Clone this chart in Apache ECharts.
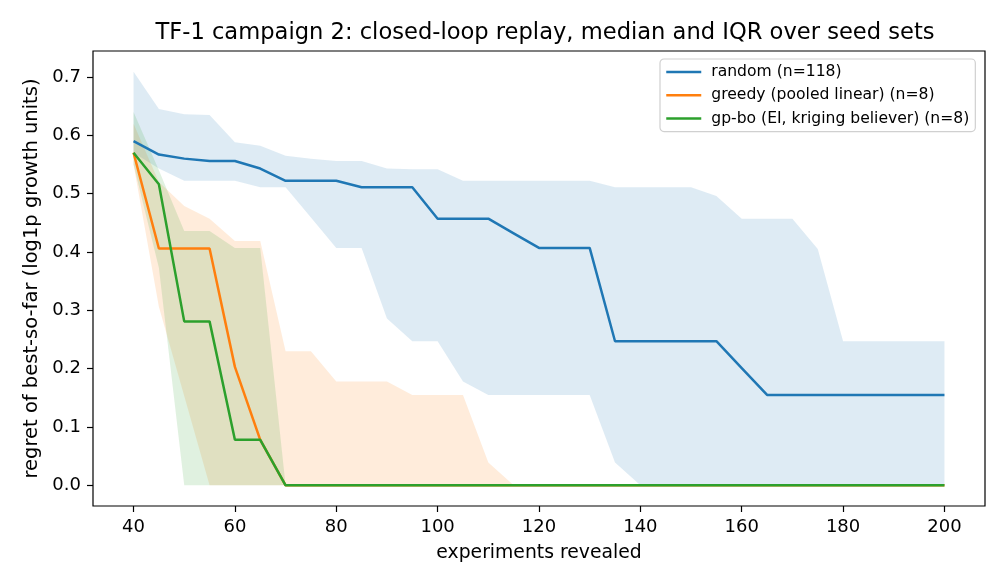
<!DOCTYPE html>
<html>
<head>
<meta charset="utf-8">
<script src="https://cdn.jsdelivr.net/npm/echarts@6/dist/echarts.min.js"></script>
<style>
  html, body { margin: 0; padding: 0; background: #fff; }
  #chart { width: 1008px; height: 588px; }
</style>
</head>
<body>
<div id="chart"></div>
<script>
// experiments revealed
const revealed = [40, 45, 50, 55, 60, 65, 70, 75, 80, 85, 90, 95, 100, 105, 110, 115, 120,
  125, 130, 135, 140, 145, 150, 155, 160, 165, 170, 175, 180, 185, 190, 195, 200];

// random (n=118)
const randomMedian = [0.590, 0.567, 0.560, 0.556, 0.556, 0.543, 0.522, 0.522, 0.522, 0.511, 0.511,
  0.511, 0.457, 0.457, 0.457, 0.432, 0.407, 0.407, 0.407, 0.247, 0.247, 0.247, 0.247, 0.247,
  0.201, 0.155, 0.155, 0.155, 0.155, 0.155, 0.155, 0.155, 0.155];
const randomUpper = [0.709, 0.645, 0.636, 0.635, 0.588, 0.582, 0.565, 0.560, 0.556, 0.556, 0.543,
  0.542, 0.542, 0.522, 0.522, 0.522, 0.522, 0.522, 0.522, 0.511, 0.511, 0.511, 0.511, 0.496,
  0.457, 0.457, 0.457, 0.405, 0.247, 0.247, 0.247, 0.247, 0.247];
const randomLower = [0.570, 0.543, 0.522, 0.522, 0.522, 0.511, 0.511, 0.459, 0.407, 0.407, 0.286,
  0.247, 0.247, 0.178, 0.155, 0.155, 0.155, 0.155, 0.155, 0.039, 0, 0, 0, 0,
  0, 0, 0, 0, 0, 0, 0, 0, 0];

// greedy (pooled linear) (n=8)
const greedyMedian = [0.570, 0.406, 0.406, 0.406, 0.203, 0.078, 0, 0, 0, 0, 0,
  0, 0, 0, 0, 0, 0, 0, 0, 0, 0, 0, 0, 0, 0, 0, 0, 0, 0, 0, 0, 0, 0];
const greedyUpper = [0.620, 0.520, 0.479, 0.457, 0.419, 0.419, 0.230, 0.230, 0.178, 0.178, 0.178,
  0.155, 0.155, 0.155, 0.039, 0, 0, 0, 0, 0, 0, 0, 0, 0, 0, 0, 0, 0, 0, 0, 0, 0, 0];
const greedyLower = [0.550, 0.306, 0.153, 0, 0, 0, 0, 0, 0, 0, 0,
  0, 0, 0, 0, 0, 0, 0, 0, 0, 0, 0, 0, 0, 0, 0, 0, 0, 0, 0, 0, 0, 0];

// gp-bo (EI, kriging believer) (n=8)
const gpboMedian = [0.570, 0.516, 0.281, 0.281, 0.078, 0.078, 0, 0, 0, 0, 0,
  0, 0, 0, 0, 0, 0, 0, 0, 0, 0, 0, 0, 0, 0, 0, 0, 0, 0, 0, 0, 0, 0];
const gpboUpper = [0.640, 0.540, 0.436, 0.436, 0.407, 0.407, 0, 0, 0, 0, 0,
  0, 0, 0, 0, 0, 0, 0, 0, 0, 0, 0, 0, 0, 0, 0, 0, 0, 0, 0, 0, 0, 0];
const gpboLower = [0.550, 0.373, 0, 0, 0, 0, 0, 0, 0, 0, 0,
  0, 0, 0, 0, 0, 0, 0, 0, 0, 0, 0, 0, 0, 0, 0, 0, 0, 0, 0, 0, 0, 0];

const xTicks = [40, 60, 80, 100, 120, 140, 160, 180, 200];
const yTicks = [0, 0.1, 0.2, 0.3, 0.4, 0.5, 0.6, 0.7];

const methods = [
  { name: 'random (n=118)', color: '#1f77b4', med: randomMedian, lo: randomLower, hi: randomUpper },
  { name: 'greedy (pooled linear) (n=8)', color: '#ff7f0e', med: greedyMedian, lo: greedyLower, hi: greedyUpper },
  { name: 'gp-bo (EI, kriging believer) (n=8)', color: '#2ca02c', med: gpboMedian, lo: gpboLower, hi: gpboUpper }
];

const font = 'DejaVu Sans';
const pairs = (ys) => revealed.map((x, i) => [x, ys[i]]);

const series = [];
// IQR bands: one polygon per method, upper edge then lower edge back
methods.forEach((m) => {
  series.push({
    type: 'custom', name: m.name + ' iqr', silent: true, z: 1,
    data: [[revealed[0], m.lo[0]]],
    encode: { x: 0, y: 1 },
    renderItem: (params, api) => {
      const top = revealed.map((x, i) => api.coord([x, m.hi[i]]));
      const bot = revealed.map((x, i) => api.coord([x, m.lo[i]])).reverse();
      return {
        type: 'polygon',
        shape: { points: top.concat(bot) },
        style: { fill: m.color, opacity: 0.15 }
      };
    }
  });
});
methods.forEach((m, k) => {
  series.push({
    type: 'line', name: m.name, symbol: 'none', data: pairs(m.med),
    lineStyle: { color: m.color, width: 2.5 }, itemStyle: { color: m.color }, z: 3 + k
  });
});

const chart = echarts.init(document.getElementById('chart'));
chart.setOption({
  animation: false,
  backgroundColor: '#fff',
  title: {
    text: 'TF-1 campaign 2: closed-loop replay, median and IQR over seed sets',
    left: 540, top: 17, textAlign: 'center',
    textStyle: { fontFamily: font, fontSize: 22.6, fontWeight: 'normal', color: '#000' }
  },
  legend: {
    data: methods.map(m => m.name),
    orient: 'vertical', left: 660, top: 59,
    padding: [5, 6, 5, 5], itemGap: 7.3, itemWidth: 35, itemHeight: 16,
    borderColor: '#d0d0d0', borderWidth: 1.2, borderRadius: 4,
    backgroundColor: 'rgba(255,255,255,0.8)',
    itemStyle: { opacity: 0 },
    lineStyle: { width: 2.5 },
    textStyle: { fontFamily: font, fontSize: 15.6, color: '#000', padding: [0, 0, 0, 5] }
  },
  grid: {
    left: 93, right: 23, top: 51, bottom: 82,
    show: true, borderColor: '#000', borderWidth: 1.2, backgroundColor: 'transparent'
  },
  xAxis: {
    type: 'value', min: 32, max: 208,
    name: 'experiments revealed', nameLocation: 'middle', nameGap: 38,
    nameTextStyle: { fontFamily: font, fontSize: 18.8, color: '#000' },
    axisLine: { show: false, onZero: false },
    axisTick: { show: true, length: 6, customValues: xTicks, lineStyle: { color: '#000', width: 1.2 } },
    axisLabel: { customValues: xTicks, margin: 12, fontFamily: font, fontSize: 18, color: '#000' },
    splitLine: { show: false }
  },
  yAxis: {
    type: 'value', min: -0.0355, max: 0.7445,
    name: 'regret of best-so-far (log1p growth units)', nameLocation: 'middle', nameGap: 50,
    nameTextStyle: { fontFamily: font, fontSize: 19.5, color: '#000' },
    axisLine: { show: false, onZero: false },
    axisTick: { show: true, length: 6, customValues: yTicks, lineStyle: { color: '#000', width: 1.2 } },
    axisLabel: {
      customValues: yTicks, margin: 12, fontFamily: font, fontSize: 18, color: '#000',
      formatter: v => v.toFixed(1)
    },
    splitLine: { show: false }
  },
  series: series
});
</script>
</body>
</html>
